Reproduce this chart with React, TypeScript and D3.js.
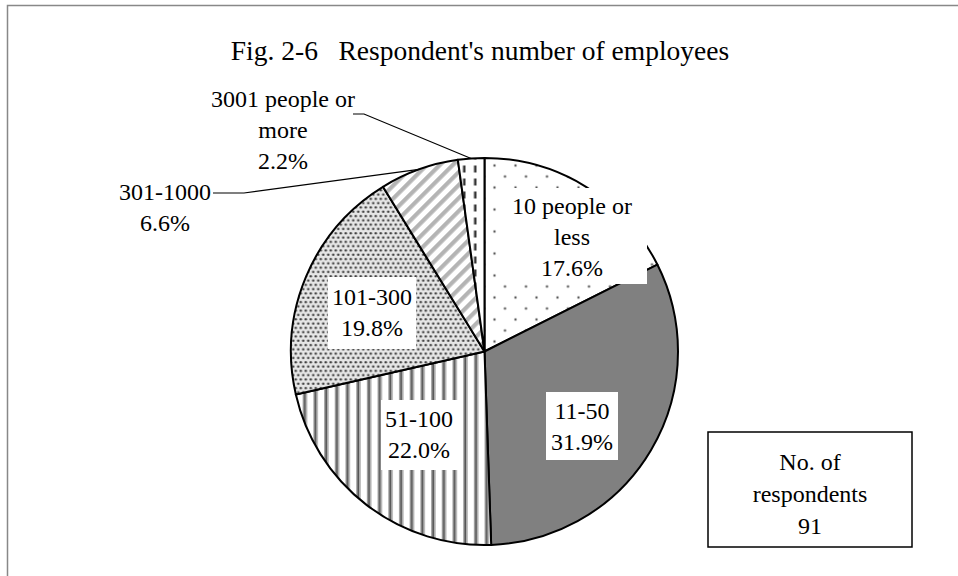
import React from "react";
import * as d3 from "d3";

const title = "Fig. 2-6\u00a0\u00a0\u00a0Respondent's number of employees";
const categories = ["10 people or less", "11-50", "51-100", "101-300", "301-1000", "3001 people or more"];
const labelLines = [["10 people or", "less"], ["11-50"], ["51-100"], ["101-300"], ["301-1000"], ["3001 people or", "more"]];
const percents = [17.6, 31.9, 22.0, 19.8, 6.6, 2.2];
const respondents = 91;
const boxLines = ["No. of", "respondents", String(respondents)];

const W = 958, H = 576;
const cx = 484.5, cy = 351.5, R = 193.5;
const FONT = "'Liberation Serif', Tinos, 'Times New Roman', 'DejaVu Serif', serif";
const FS = 24;
const LH = 31;

const fills = ["url(#pDotsSparse)", "#808080", "url(#pVStripes)", "url(#pDotsDense)", "url(#pDiag)", "url(#pDash)"];

const labelLayout: { x: number; y: number; box?: number[]; leader?: number[][] }[] = [
  { x: 572, y: 214, box: [497, 188, 150, 96] },
  { x: 582, y: 419, box: [546, 392, 72, 68] },
  { x: 419, y: 427, box: [381, 400, 77, 70] },
  { x: 372, y: 305, box: [328, 277, 88, 72] },
  { x: 165, y: 200, leader: [[213, 193], [244, 193]] },
  { x: 283, y: 107, leader: [[353, 114], [364, 114]] },
];

const textStyle: React.CSSProperties = { fontFamily: FONT, fontSize: FS };

export default function App() {
  const pie = d3.pie<number>().sort(null).value((d) => d).startAngle(0).endAngle(2 * Math.PI);
  const arcs = pie(percents);
  const arcGen = d3.arc<d3.PieArcDatum<number>>().innerRadius(0).outerRadius(R);

  return (
    <svg width={W} height={H} style={{ position: "absolute", left: 0, top: 0, background: "#fff", fontFamily: FONT }}>
      <defs>
        <pattern id="pDotsSparse" patternUnits="userSpaceOnUse" width={21} height={22} x={493} y={166}>
          <rect width={21} height={22} fill="#fff" />
          <circle cx={0} cy={0} r={1.2} fill="#555" />
          <circle cx={21} cy={0} r={1.2} fill="#555" />
          <circle cx={0} cy={22} r={1.2} fill="#555" />
          <circle cx={21} cy={22} r={1.2} fill="#555" />
          <circle cx={10.5} cy={11} r={1.2} fill="#555" />
        </pattern>
        <pattern id="pDotsDense" patternUnits="userSpaceOnUse" width={5} height={8.6}>
          <rect width={5} height={8.6} fill="#e6e6e6" />
          <circle cx={1.25} cy={2.15} r={1.2} fill="#3a3a3a" />
          <circle cx={3.75} cy={6.45} r={1.2} fill="#3a3a3a" />
        </pattern>
        <pattern id="pVStripes" patternUnits="userSpaceOnUse" width={10.7} height={10}>
          <rect width={10.7} height={10} fill="#fff" />
          <rect x={0} width={1.2} height={10} fill="#aaa" />
          <rect x={1.2} width={2.2} height={10} fill="#555" />
          <rect x={3.4} width={1.2} height={10} fill="#aaa" />
        </pattern>
        <pattern id="pDiag" patternUnits="userSpaceOnUse" width={9.2} height={10} patternTransform="rotate(45)">
          <rect width={9.2} height={10} fill="#fff" />
          <rect x={0} width={4.2} height={10} fill="#b4b4b4" />
        </pattern>
        <pattern id="pDash" patternUnits="userSpaceOnUse" width={11} height={13} x={469} y={165}>
          <rect width={11} height={13} fill="#fff" />
          <rect x={4.5} y={0} width={2.5} height={7} fill="#333" />
        </pattern>
      </defs>

      <rect x={7.5} y={5.5} width={1000} height={700} fill="none" stroke="#888" strokeWidth={1.5} />

      <text x={480} y={60} textAnchor="middle" style={{ ...textStyle, fontSize: 27.5 }} fill="#000">{title}</text>

      <g transform={`translate(${cx},${cy})`}>
        {arcs.map((a, i) => (
          <path key={categories[i]} d={arcGen(a) || ""} fill={fills[i]} stroke="#000" strokeWidth={2} strokeLinejoin="round" />
        ))}
      </g>

      {arcs.map((a, i) => {
        const L = labelLayout[i];
        const lines = [...labelLines[i], `${percents[i].toFixed(1)}%`];
        const mid = (a.startAngle + a.endAngle) / 2;
        const ex = cx + R * Math.sin(mid);
        const ey = cy - R * Math.cos(mid);
        return (
          <g key={"l" + i}>
            {L.box && <rect x={L.box[0]} y={L.box[1]} width={L.box[2]} height={L.box[3]} fill="#fff" />}
            {L.leader && (
              <polyline
                points={[...L.leader, [ex, ey]].map((p) => p.join(",")).join(" ")}
                fill="none"
                stroke="#000"
                strokeWidth={1.2}
              />
            )}
            <text textAnchor="middle" style={textStyle} fill="#000">
              {lines.map((t, j) => (
                <tspan key={j} x={L.x} y={L.y + j * LH}>{t}</tspan>
              ))}
            </text>
          </g>
        );
      })}

      <rect x={708} y={432} width={204} height={115} fill="#fff" stroke="#000" strokeWidth={1.5} />
      <text textAnchor="middle" style={textStyle} fill="#000">
        {boxLines.map((t, j) => (
          <tspan key={j} x={810} y={470 + j * 32}>{t}</tspan>
        ))}
      </text>
    </svg>
  );
}
